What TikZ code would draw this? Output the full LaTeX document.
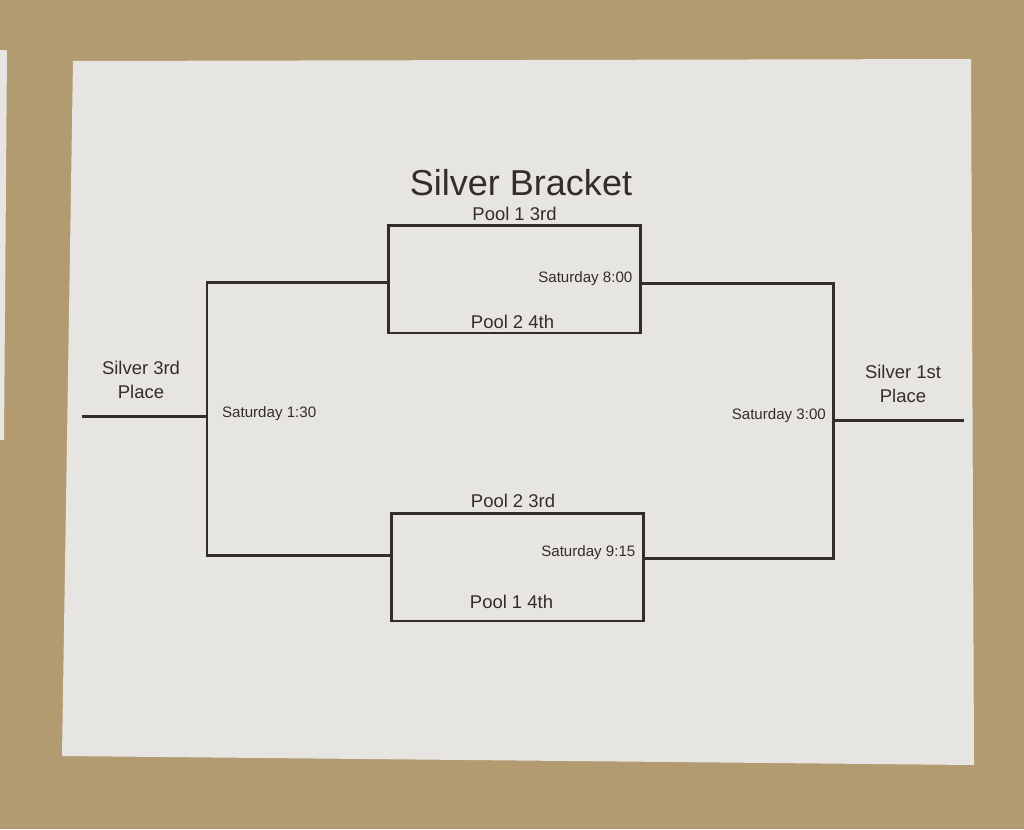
\documentclass[tikz,border=0pt]{standalone}
\usepackage{fontspec}
\setmainfont{Liberation Sans}
\usetikzlibrary{positioning}

\definecolor{granite}{RGB}{178,155,112}
\definecolor{paper}{RGB}{231,229,226}
\definecolor{ink}{RGB}{52,44,44}

\tikzset{
  matchbox/.style={draw=ink, line width=1.7pt, minimum width=5.06cm, minimum height=2.16cm, inner sep=0pt},
  wire/.style={draw=ink, line width=1.7pt},
  teamlbl/.style={text=ink, font=\fontsize{10.5}{12}\selectfont, inner sep=1pt},
  timelbl/.style={text=ink, font=\fontsize{8.6}{10}\selectfont, inner sep=1pt},
  placelbl/.style={text=ink, font=\fontsize{10.5}{13.5}\selectfont, align=center, inner sep=1pt}
}

\begin{document}
\begin{tikzpicture}[x=0.02cm, y=-0.02cm]
  \useasboundingbox (0,0) rectangle (1024,829);
  % counter top and sheets
  \fill[granite] (0,0) rectangle (1024,829);
  \fill[paper] (0,50) -- (7,50) -- (4,440) -- (0,440) -- cycle;
  \fill[paper] (73,61) -- (971,59) -- (974,765) -- (62,756) -- cycle;

  \node[text=ink, font=\fontsize{20.5}{24}\selectfont] (title) at (521,183) {Silver Bracket};

  % first round
  \node[matchbox] (m1) at (514.5,279) {};
  \node[matchbox] (m2) at (517.5,567) {};
  \node[teamlbl, above=0.02cm of m1.north] (p13) {Pool 1 3rd};
  \node[teamlbl, anchor=south] (p24) at ([xshift=-0.04cm, yshift=0.07cm]m1.south) {Pool 2 4th};
  \node[timelbl, left=0.16cm of m1.east] (sat8) {Saturday 8:00};
  \node[teamlbl, anchor=south] (p23) at ([xshift=-0.09cm, yshift=0.04cm]m2.north) {Pool 2 3rd};
  \node[teamlbl, anchor=south] (p14) at ([xshift=-0.12cm, yshift=0.24cm]m2.south) {Pool 1 4th};
  \node[timelbl, anchor=east] (sat9) at ([xshift=-0.16cm, yshift=0.28cm]m2.east) {Saturday 9:15};

  % third place side
  \coordinate (semi) at (207,416);
  \coordinate (third) at (82,416);
  \draw[wire] ([yshift=-0.06cm]m1.west) -| (semi) |- ([yshift=0.24cm]m2.west);
  \draw[wire] (semi) -- (third);
  \node[timelbl, anchor=west] (sat130) at (220,414) {Saturday 1:30};
  \node[placelbl] (s3) at (141,380) {Silver 3rd\\Place};

  % first place side
  \coordinate (final) at (833,420);
  \coordinate (champ) at (964,420);
  \draw[wire] ([yshift=-0.08cm]m1.east) -| (final) |- ([yshift=0.18cm]m2.east);
  \draw[wire] (final) -- (champ);
  \node[timelbl, anchor=east] (sat300) at (828,416) {Saturday 3:00};
  \node[placelbl] (s1) at (903,384) {Silver 1st\\Place};
\end{tikzpicture}
\end{document}
